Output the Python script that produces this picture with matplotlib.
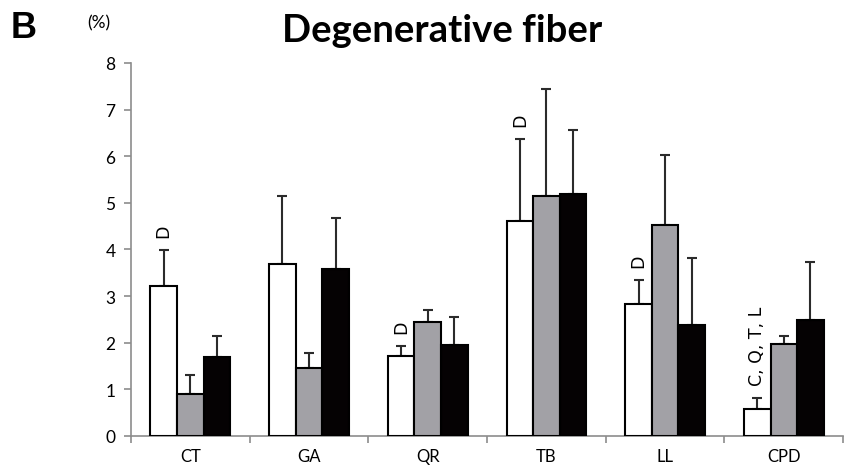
import matplotlib
matplotlib.use("Agg")
import matplotlib.pyplot as plt
import numpy as np

categories = ["CT", "GA", "QR", "TB", "LL", "CPD"]
white_vals = [3.22, 3.69, 1.72, 4.62, 2.83, 0.58]
white_err = [0.76, 1.45, 0.20, 1.75, 0.52, 0.23]
gray_vals = [0.89, 1.45, 2.45, 5.14, 4.53, 1.97]
gray_err = [0.42, 0.32, 0.25, 2.31, 1.50, 0.17]
black_vals = [1.70, 3.58, 1.95, 5.19, 2.37, 2.49]
black_err = [0.45, 1.10, 0.60, 1.38, 1.44, 1.24]
annotations = ["D", "", "D", "D", "D", "C, Q, T, L"]
yticks = [0, 1, 2, 3, 4, 5, 6, 7, 8]

plt.rcParams['font.family'] = ['Lato', 'DejaVu Sans']

fig = plt.figure(figsize=(8.5, 4.77), dpi=100)
ax = fig.add_axes([0.154, 0.084, 0.838, 0.782])

x = np.arange(len(categories))
w = 0.224
axis_col = "#8c8c8c"
err_kw = dict(ecolor="#2b2b2b", elinewidth=1.5, capsize=3.5, capthick=1.5)
series = [(white_vals, white_err, "white"), (gray_vals, gray_err, "#a2a1a6"), (black_vals, black_err, "#050203")]
for i, (vals, errs, col) in enumerate(series):
    pos = x + (i - 1) * w
    ax.bar(pos, vals, w, color=col, edgecolor="black", linewidth=1.5, zorder=3)
    ax.errorbar(pos, vals, yerr=[np.zeros(len(vals)), errs], fmt="none", zorder=2, **err_kw)

for i, txt in enumerate(annotations):
    if txt:
        top = white_vals[i] + white_err[i]
        ax.text(x[i] - w, top + 0.28, txt, rotation=90, ha="center", va="bottom",
                fontsize=12.5, color="black", family="DejaVu Sans")

ax.set_xlim(-0.5, len(categories) - 0.5)
ax.set_ylim(0, 8)
ax.set_yticks(yticks)
ax.set_yticklabels([str(t) for t in yticks], fontsize=12.5)
ax.set_xticks(x)
ax.set_xticklabels(categories, fontsize=12)
ax.tick_params(axis="x", length=0, pad=9)
ax.set_xticks(np.arange(len(categories) + 1) - 0.5, minor=True)
ax.tick_params(axis="x", which="minor", length=5, color=axis_col, width=1.2)
ax.tick_params(axis="y", length=5, color=axis_col, width=1.2, pad=6)
for s in ["top", "right"]:
    ax.spines[s].set_visible(False)
for s in ["left", "bottom"]:
    ax.spines[s].set_color(axis_col)
    ax.spines[s].set_linewidth(1.2)

fig.text(0.012, 0.94, "B", fontsize=26, fontweight="bold", family="Liberation Sans", va="center")
fig.text(0.103, 0.95, "(%)", fontsize=12.5, va="center")
fig.text(0.52, 0.935, "Degenerative fiber", fontsize=27.5, fontweight="bold", ha="center", va="center")

fig.savefig("out.png", dpi=100)
